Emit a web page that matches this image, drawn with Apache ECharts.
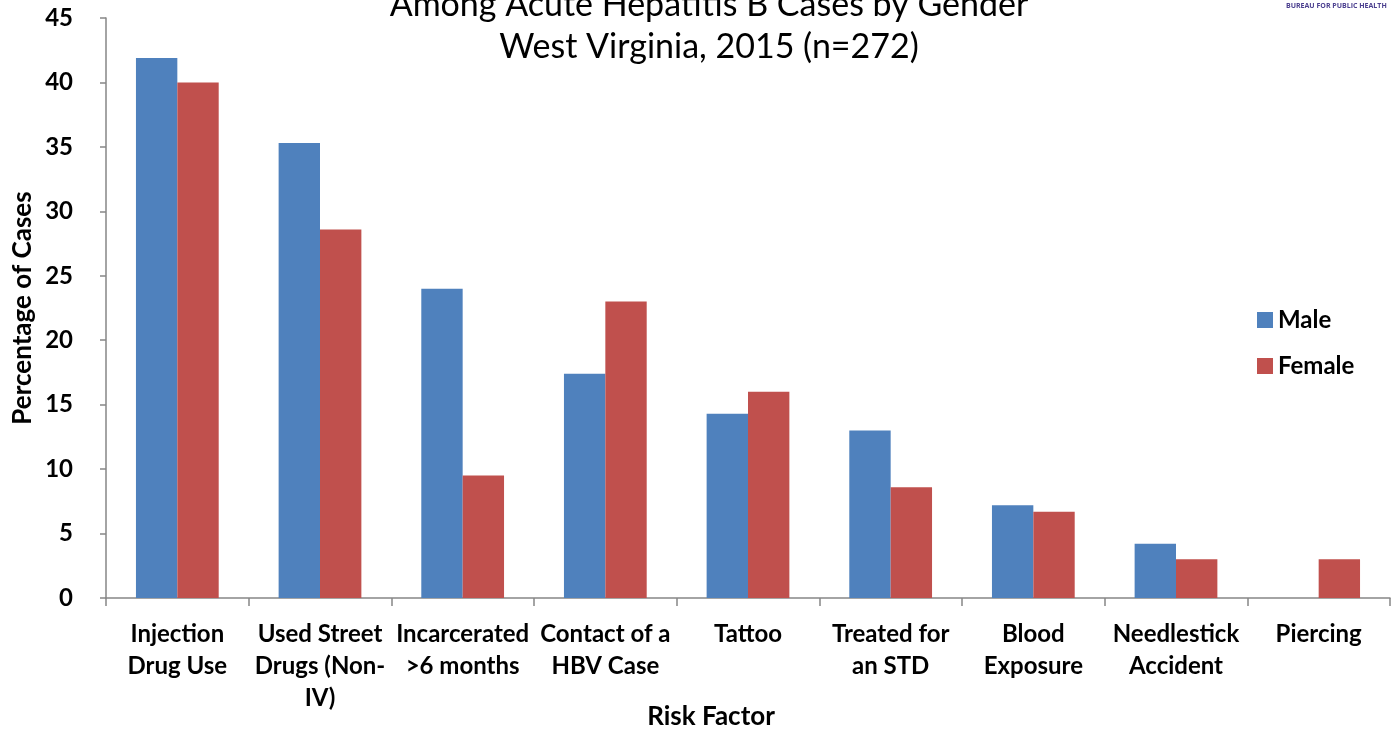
<!DOCTYPE html>
<html>
<head>
<meta charset="utf-8">
<script src="https://cdn.jsdelivr.net/npm/echarts@6/dist/echarts.min.js"></script>
<style>
	html, body { margin: 0; padding: 0; background: #fff; }
	#chart { width: 1398px; height: 732px; }
</style>
</head>
<body>
<div id="chart"></div>
<script>
let categories = [
	"Injection\nDrug Use",
	"Used Street\nDrugs (Non-\nIV)",
	"Incarcerated\n>6 months",
	"Contact of a\nHBV Case",
	"Tattoo",
	"Treated for\nan STD",
	"Blood\nExposure",
	"Needlestick\nAccident",
	"Piercing",
];
let maleValues = [41.9, 35.3, 24.0, 17.4, 14.3, 13.0, 7.2, 4.2, 0];
let femaleValues = [40.0, 28.6, 9.5, 23.0, 16.0, 8.6, 6.7, 3.0, 3.0];
let yTicks = [0, 5, 10, 15, 20, 25, 30, 35, 40, 45];

function riskChart() {
	let dom = document.getElementById("chart");
	let myChart = echarts.init(dom, null, { renderer: "canvas" });

	let font = "Lato, 'Open Sans', sans-serif";

	let option = {
		animation: false,
		backgroundColor: "#ffffff",
		title: {
			text: "Among Acute Hepatitis B Cases by Gender\nWest Virginia, 2015 (n=272)",
			left: 704,
			top: -21,
			textAlign: "center",
			textStyle: {
				fontFamily: font,
				fontSize: 34,
				fontWeight: "normal",
				color: "#000",
				lineHeight: 42,
			},
		},
		graphic: [
			{
				type: "text",
				left: 1286,
				top: 2,
				style: {
					text: "BUREAU FOR PUBLIC HEALTH",
					font: "bold 7px 'Open Sans', sans-serif",
					fill: "#4b3f8f",
				},
			},
		],
		legend: {
			orient: "vertical",
			left: 1252,
			top: 303,
			itemWidth: 16,
			itemHeight: 16,
			itemGap: 22,
			icon: "rect",
			textStyle: {
				fontFamily: font,
				fontSize: 24,
				fontWeight: "bold",
				color: "#000",
			},
			data: ["Male", "Female"],
		},
		grid: {
			left: 106,
			right: 8,
			top: 18,
			bottom: 134,
			outerBoundsMode: "none",
		},
		xAxis: {
			type: "category",
			data: categories,
			name: "Risk Factor",
			nameLocation: "middle",
			nameGap: 106,
			nameMoveOverlap: false,
			nameTextStyle: {
				fontFamily: font,
				fontSize: 26,
				fontWeight: "bold",
				color: "#000",
				padding: [0, 74, 0, 0],
			},
			axisLine: { lineStyle: { color: "#868686", width: 1.5 } },
			axisTick: { show: true, length: 8, lineStyle: { color: "#868686", width: 1.5 } },
			axisLabel: {
				interval: 0,
				margin: 20,
				fontFamily: font,
				fontSize: 24,
				fontWeight: "bold",
				color: "#000",
				lineHeight: 32,
			},
		},
		yAxis: {
			type: "value",
			min: yTicks[0],
			max: yTicks[yTicks.length - 1],
			interval: 5,
			name: "Percentage of Cases",
			nameLocation: "middle",
			nameGap: 70,
			nameMoveOverlap: false,
			nameTextStyle: {
				fontFamily: font,
				fontSize: 26,
				fontWeight: "bold",
				color: "#000",
			},
			splitLine: { show: false },
			axisLine: { show: true, lineStyle: { color: "#868686", width: 1.5 } },
			axisTick: { show: true, length: 6, lineStyle: { color: "#868686", width: 1.5 } },
			axisLabel: {
				margin: 33,
				fontFamily: font,
				fontSize: 24,
				fontWeight: "bold",
				color: "#000",
			},
		},
		series: [
			{
				name: "Male",
				type: "bar",
				data: maleValues,
				barGap: "0%",
				barCategoryGap: "42%",
				itemStyle: { color: "#4F81BD" },
			},
			{
				name: "Female",
				type: "bar",
				data: femaleValues,
				itemStyle: { color: "#C0504D" },
			},
		],
	};

	myChart.setOption(option);
	window.addEventListener("resize", myChart.resize);
}

(function init() {
	riskChart();
})();
</script>
</body>
</html>
